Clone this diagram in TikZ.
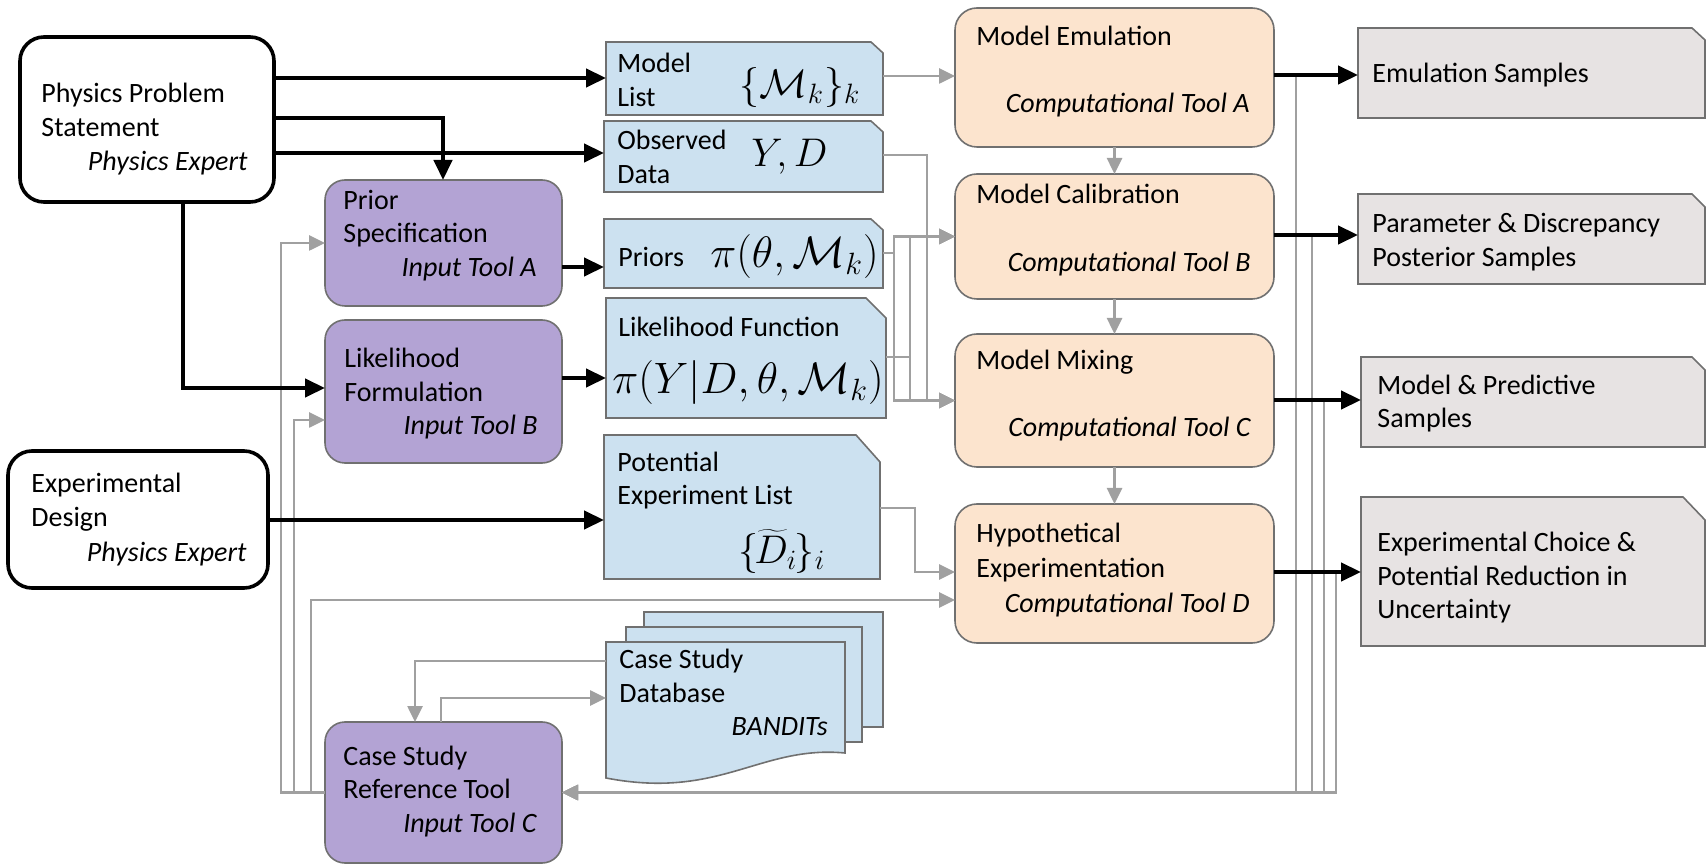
\RequirePackage{fix-cm}
\documentclass[tikz,border=0pt]{standalone}
\usepackage{fontspec}
\setmainfont{Carlito}
\usetikzlibrary{arrows.meta,calc}
\definecolor{purp}{RGB}{179,163,212}
\definecolor{orng}{RGB}{252,228,206}
\definecolor{blu}{RGB}{204,225,240}
\definecolor{gbox}{RGB}{231,227,227}
\definecolor{gline}{RGB}{160,160,160}
\definecolor{bord}{RGB}{112,112,112}
\tikzset{
  anchorbox/.style={inner sep=0pt, outer sep=0pt},
  expert/.style={draw=black, line width=1.8pt, rounded corners=12pt, fill=white},
  inputtool/.style={draw=bord, line width=0.8pt, rounded corners=10pt, fill=purp},
  comptool/.style={draw=bord, line width=0.8pt, rounded corners=11pt, fill=orng},
  docfill/.style={draw=bord, line width=0.8pt, fill=blu},
  outfill/.style={draw=bord, line width=0.8pt, fill=gbox},
  tx/.style={font=\fontsize{14}{17}\selectfont, inner sep=0pt, anchor=base west},
  ti/.style={font=\fontsize{14}{17}\selectfont\itshape, inner sep=0pt, anchor=base east},
  mth/.style={font=\fontsize{22}{26}\selectfont, inner sep=0pt},
  mths/.style={font=\fontsize{20}{24}\selectfont, inner sep=0pt},
  blk/.style={line width=2.2pt, -{Triangle[length=10pt,width=9pt]}},
  gry/.style={draw=gline, line width=1.3pt, -{Triangle[length=8pt,width=7.5pt]}},
}
\newcommand{\mkbox}[6]{\node[anchorbox,#6,minimum width={(#4-#2)*0.5pt},minimum height={(#5-#3)*0.5pt}] (#1) at ({(#2+#4)/2},{(#3+#5)/2}) {};}
\newcommand{\docpath}[4]{\draw[#4] (#1.south west) -- (#1.north west) -- ($(#1.north east)+(-#2,0)$) -- ($(#1.north east)+(0,#3)$) -- (#1.south east) -- cycle;}
\begin{document}
\begin{tikzpicture}[x=0.5pt,y=-0.5pt]
\useasboundingbox (0,0) rectangle (1707,865);
% ---- boxes
\mkbox{pps}{20}{37}{274}{202}{expert}
\mkbox{ed}{8}{451}{268}{588}{expert}
\mkbox{prior}{325}{180}{562}{306}{inputtool}
\mkbox{lik}{325}{320}{562}{463}{inputtool}
\mkbox{csrt}{325}{722}{562}{863}{inputtool}
\mkbox{emu}{955}{8}{1274}{147}{comptool}
\mkbox{cal}{955}{174}{1274}{299}{comptool}
\mkbox{mix}{955}{334}{1274}{467}{comptool}
\mkbox{hyp}{955}{504}{1274}{643}{comptool}
% ---- documents
\mkbox{ml}{606}{42}{883}{115}{}
\docpath{ml}{12}{11}{docfill}
\mkbox{obs}{604}{121}{883}{192}{}
\docpath{obs}{12}{11}{docfill}
\mkbox{pri}{604}{219}{883}{288}{}
\docpath{pri}{12}{11}{docfill}
\mkbox{lf}{606}{298}{886}{418}{}
\docpath{lf}{20}{20}{docfill}
\mkbox{pel}{604}{435}{880}{579}{}
\docpath{pel}{24}{27}{docfill}
% ---- outputs
\mkbox{es}{1358}{28}{1705}{118}{}
\docpath{es}{13}{12}{outfill}
\mkbox{pd}{1358}{194}{1705}{284}{}
\docpath{pd}{13}{13}{outfill}
\mkbox{mp}{1361}{357}{1705}{447}{}
\docpath{mp}{13}{13}{outfill}
\mkbox{ec}{1361}{497}{1705}{646}{}
\docpath{ec}{22}{23}{outfill}
% ---- database stack
\mkbox{dbback}{644}{612}{883}{727}{docfill}
\mkbox{dbmid}{626}{627}{862}{742}{docfill}
\mkbox{db}{606}{642}{845}{778}{}
\draw[docfill] (db.south west) -- (db.north west) -- (db.north east) -- (db.north east |- 0,753) .. controls (760,745) and (720,800) .. (db.south west) -- cycle;
% ---- gray connectors
\draw[gry] (ml.east |- 0,76) -- (emu.west |- 0,76);
\draw[gry] (obs.east |- 0,155) -| (927,0 |- cal.west) -- (cal.west);
\draw[gry] (obs.east |- 0,155) -| (927,0 |- mix.west) -- (mix.west);
\draw[gry] (pri.east |- 0,253) -| (894,0 |- cal.west) -- (cal.west);
\draw[gry] (pri.east |- 0,253) -| (894,0 |- mix.west) -- (mix.west);
\draw[gry] (lf.east |- 0,357) -| (910,0 |- cal.west) -- (cal.west);
\draw[gry] (lf.east |- 0,357) -| (910,0 |- mix.west) -- (mix.west);
\draw[gry] (emu.south) -- (cal.north);
\draw[gry] (cal.south) -- (mix.north);
\draw[gry] (mix.south) -- (hyp.north);
\draw[gry] (pel.east |- 0,508) -| (915,572) -- (hyp.west |- 0,572);
\draw[gry] (1296,75) |- (csrt.east);
\draw[gry] (1312,235) |- (csrt.east);
\draw[gry] (1324,400) |- (csrt.east);
\draw[gry] (1336,572) |- (csrt.east);
\draw[gry] (csrt.west) -| (281,243) -- (prior.west |- 0,243);
\draw[gry] (csrt.west) -| (294,420) -- (lik.west |- 0,420);
\draw[gry] (csrt.west) -| (311,600) -- (hyp.west |- 0,600);
\draw[gry] (db.west |- 0,661) -| (415,0 |- csrt.north);
\draw[gry] (441,0 |- csrt.north) |- (db.west |- 0,698);
% ---- black connectors
\draw[blk] (pps.east |- 0,78) -- (ml.west |- 0,78);
\draw[blk] (pps.east |- 0,118) -| (443,0 |- prior.north);
\draw[blk] (pps.east |- 0,153) -- (obs.west |- 0,153);
\draw[blk] (183,0 |- pps.south) |- (lik.west |- 0,388);
\draw[blk] (prior.east |- 0,267) -- (pri.west |- 0,267);
\draw[blk] (lik.east |- 0,378) -- (lf.west |- 0,378);
\draw[blk] (ed.east |- 0,520) -- (pel.west |- 0,520);
\draw[blk] (emu.east |- 0,75) -- (es.west |- 0,75);
\draw[blk] (cal.east |- 0,235) -- (pd.west |- 0,235);
\draw[blk] (mix.east |- 0,400) -- (mp.west |- 0,400);
\draw[blk] (hyp.east |- 0,572) -- (ec.west |- 0,572);
% ---- texts
\node[tx] (t1) at (41,103) {Physics Problem};
\node[tx] (t2) at (41,137) {Statement};
\node[ti] (t3) at (248,171) {Physics Expert};
\node[tx] (t4) at (31,493) {Experimental};
\node[tx] (t5) at (31,527) {Design};
\node[ti] (t6) at (247,561) {Physics Expert};
\node[tx] (t7) at (343,210) {Prior};
\node[tx] (t8) at (343,243) {Specification};
\node[ti] (t9) at (537,277) {Input Tool A};
\node[tx] (t10) at (344,368) {Likelihood};
\node[tx] (t11) at (344,402) {Formulation};
\node[ti] (t12) at (538,435) {Input Tool B};
\node[tx] (t13) at (343,765) {Case Study};
\node[tx] (t14) at (343,798) {Reference Tool};
\node[ti] (t15) at (537,832) {Input Tool C};
\node[tx] (t16) at (617,73) {Model};
\node[tx] (t17) at (617,107) {List};
\node[tx] (t18) at (617,150) {Observed};
\node[tx] (t19) at (617,184) {Data};
\node[tx] (t20) at (618,267) {Priors};
\node[tx] (t21) at (618,337) {Likelihood Function};
\node[tx] (t22) at (617,472) {Potential};
\node[tx] (t23) at (617,505) {Experiment List};
\node[tx] (t24) at (619,668) {Case Study};
\node[tx] (t25) at (619,702) {Database};
\node[ti] (t26) at (828,735) {BANDITs};
\node[tx] (t27) at (976,46) {Model Emulation};
\node[ti] (t28) at (1250,113) {Computational Tool A};
\node[tx] (t29) at (976,204) {Model Calibration};
\node[ti] (t30) at (1251,272) {Computational Tool B};
\node[tx] (t31) at (976,370) {Model Mixing};
\node[ti] (t32) at (1251,437) {Computational Tool C};
\node[tx] (t33) at (976,543) {Hypothetical};
\node[tx] (t34) at (976,577) {Experimentation};
\node[ti] (t35) at (1250,612) {Computational Tool D};
\node[tx] (t36) at (1372,83) {Emulation Samples};
\node[tx] (t37) at (1372,233) {Parameter \& Discrepancy};
\node[tx] (t38) at (1372,267) {Posterior Samples};
\node[tx] (t39) at (1377,395) {Model \& Predictive};
\node[tx] (t40) at (1377,428) {Samples};
\node[tx] (t41) at (1377,552) {Experimental Choice \&};
\node[tx] (t42) at (1377,585) {Potential Reduction in};
\node[tx] (t43) at (1377,618) {Uncertainty};
% ---- math
\node[mths, anchor=base] (m1) at (800,98) {$\{\mathcal{M}_k\}_k$};
\node[mths, anchor=base west] (m2) at (751,167) {$Y,D$};
\node[mth, anchor=base east] (m3) at (879,268) {$\pi(\theta,\mathcal{M}_k)$};
\node[mth, anchor=base] (m4) at (748,394) {$\pi(Y|D,\theta,\mathcal{M}_k)$};
\node[mths, anchor=base] (m5) at (782,563) {$\{\mkern-2mu\widetilde{D}_i\mkern-1mu\}_i$};
\end{tikzpicture}
\end{document}
